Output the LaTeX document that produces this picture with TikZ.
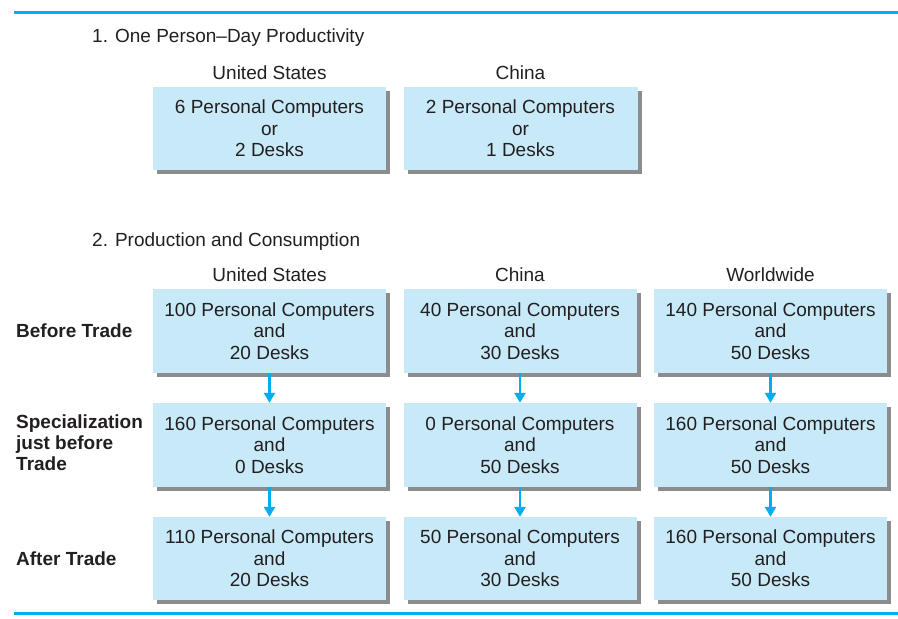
\documentclass[tikz,border=0pt]{standalone}
\usepackage{fontspec}
\setmainfont{Liberation Sans}
\usepackage{tikz}
\usetikzlibrary{shadows}
\usetikzlibrary{arrows.meta}

\definecolor{rulecyan}{HTML}{00AEEF}
\definecolor{boxblue}{HTML}{C7E9F8}
\definecolor{shadowgray}{HTML}{8C8C8E}
\definecolor{inkgray}{HTML}{231F20}

\begin{document}
\begin{tikzpicture}[x=1pt,y=-1pt,
  every node/.style={text=inkgray,font=\fontsize{19}{21.5}\selectfont},
  tradebox/.style={fill=boxblue,minimum width=233pt,minimum height=83pt,
    inner sep=0pt,align=center,
    drop shadow={shadow xshift=4pt,shadow yshift=-4pt,fill=shadowgray,opacity=1}},
  rowlabel/.style={anchor=west,align=left,inner sep=0pt,font=\fontsize{19}{21}\selectfont\bfseries},
  heading/.style={anchor=base,inner sep=0pt},
  flow/.style={draw=rulecyan,line width=2.5pt,-{Triangle[width=11pt,length=10pt]}}]
  \useasboundingbox (0,0) rectangle (898,619);

  \draw[rulecyan,line width=3pt] (14,12) -- (898,12);
  \draw[rulecyan,line width=3pt] (14,613) -- (898,613);

  % part 1
  \node[anchor=base west,inner sep=0pt] (title1) at (92,42) {1. One Person--Day Productivity};
  \node[heading] (usA) at (269.5,79) {United States};
  \node[heading] (chA) at (520.5,79) {China};
  \node[tradebox] (usday) at (269.5,128.5) {6 Personal Computers\\or\\2 Desks};
  \node[tradebox,minimum width=234pt] (chday) at (520.5,128.5) {2 Personal Computers\\or\\1 Desks};

  % part 2
  \node[anchor=base west,inner sep=0pt] (title2) at (92,246) {2. Production and Consumption};
  \node[heading] (usB) at (269.5,281) {United States};
  \node[heading] (chB) at (520,281) {China};
  \node[heading] (wwB) at (770.5,281) {Worldwide};

  \node[rowlabel] (before) at (16,331) {Before Trade};
  \node[rowlabel] (special) at (16,443) {Specialization\\just before\\Trade};
  \node[rowlabel] (after) at (16,558.5) {After Trade};

  \node[tradebox,minimum height=84pt] (us1) at (269.5,331) {100 Personal Computers\\and\\20 Desks};
  \node[tradebox,minimum height=84pt] (ch1) at (520,331) {40 Personal Computers\\and\\30 Desks};
  \node[tradebox,minimum height=84pt] (ww1) at (770.5,331) {140 Personal Computers\\and\\50 Desks};

  \node[tradebox,minimum height=84pt] (us2) at (269.5,445) {160 Personal Computers\\and\\0 Desks};
  \node[tradebox,minimum height=84pt] (ch2) at (520,445) {0 Personal Computers\\and\\50 Desks};
  \node[tradebox,minimum height=84pt] (ww2) at (770.5,445) {160 Personal Computers\\and\\50 Desks};

  \node[tradebox] (us3) at (269.5,558.5) {110 Personal Computers\\and\\20 Desks};
  \node[tradebox] (ch3) at (520,558.5) {50 Personal Computers\\and\\30 Desks};
  \node[tradebox] (ww3) at (770.5,558.5) {160 Personal Computers\\and\\50 Desks};

  \draw[flow] (us1) -- (us2);
  \draw[flow] (ch1) -- (ch2);
  \draw[flow] (ww1) -- (ww2);

  \draw[flow] (us2) -- (us3);
  \draw[flow] (ch2) -- (ch3);
  \draw[flow] (ww2) -- (ww3);
\end{tikzpicture}
\end{document}
